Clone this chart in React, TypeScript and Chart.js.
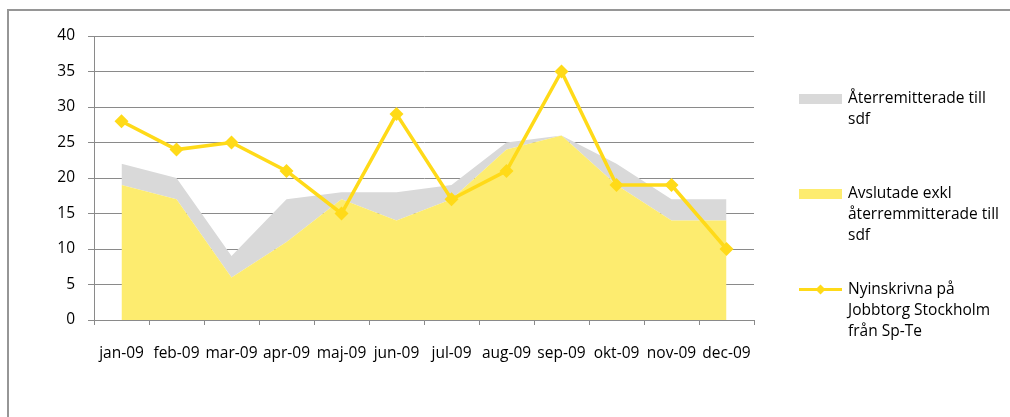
import React, { useEffect, useRef } from "react";
import { Chart, registerables } from "chart.js";

Chart.register(...registerables);

const months = ["jan-09", "feb-09", "mar-09", "apr-09", "maj-09", "jun-09", "jul-09", "aug-09", "sep-09", "okt-09", "nov-09", "dec-09"];
const avslutade = [19, 17, 6, 11, 17, 14, 17, 24, 26, 19, 14, 14];
const aterremitterade = [3, 3, 3, 6, 1, 4, 2, 1, 0, 3, 3, 3];
const nyinskrivna = [28, 24, 25, 21, 15, 29, 17, 21, 35, 19, 19, 10];
const yMax = 40;
const yStep = 5;

const legendAter = ["Återremitterade till", "sdf"];
const legendAvsl = ["Avslutade exkl", "återremmitterade till", "sdf"];
const legendNy = ["Nyinskrivna på", "Jobbtorg Stockholm", "från Sp-Te"];

const FONT = "'Open Sans', sans-serif";
const FS = 15.5;
const GREY = "#D9D9D9";
const YELLOW_FILL = "#FDEC6F";
const LINE = "#FFDA18";
const GRID = "#8a8a8a";

const legendPlugin = {
  id: "customLegend",
  afterDraw(chart: any) {
    const ctx = chart.ctx as CanvasRenderingContext2D;
    const sx = 799, sw = 43, tx = 848, lh = 21;
    ctx.save();
    ctx.font = `${FS}px ${FONT}`;
    ctx.fillStyle = "#000";
    ctx.textBaseline = "middle";
    ctx.textAlign = "left";
    const block = (lines: string[], y0: number) => {
      lines.forEach((l, i) => ctx.fillText(l, tx, y0 + i * lh));
    };
    ctx.fillStyle = GREY;
    ctx.fillRect(sx, 94, sw, 10);
    ctx.fillStyle = "#000";
    block(legendAter, 99);
    ctx.fillStyle = YELLOW_FILL;
    ctx.fillRect(sx, 189, sw, 10);
    ctx.fillStyle = "#000";
    block(legendAvsl, 194);
    ctx.strokeStyle = LINE;
    ctx.lineWidth = 3;
    ctx.beginPath();
    ctx.moveTo(sx, 289.5);
    ctx.lineTo(sx + sw, 289.5);
    ctx.stroke();
    ctx.fillStyle = LINE;
    ctx.beginPath();
    const cx = sx + sw / 2, cy = 289.5, r = 5;
    ctx.moveTo(cx, cy - r);
    ctx.lineTo(cx + r, cy);
    ctx.lineTo(cx, cy + r);
    ctx.lineTo(cx - r, cy);
    ctx.closePath();
    ctx.fill();
    ctx.fillStyle = "#000";
    block(legendNy, 290);
    ctx.restore();
  },
};

export default function App() {
  const ref = useRef<HTMLCanvasElement>(null);
  useEffect(() => {
    if (!ref.current) return;
    const chart = new Chart(ref.current, {
      type: "line",
      data: {
        labels: months,
        datasets: [
          {
            label: "Avslutade exkl återremmitterade till sdf",
            data: avslutade,
            backgroundColor: YELLOW_FILL,
            borderWidth: 0,
            pointRadius: 0,
            fill: "origin",
            stack: "area",
            order: 1,
            tension: 0,
          },
          {
            label: "Återremitterade till sdf",
            data: aterremitterade,
            backgroundColor: GREY,
            borderWidth: 0,
            pointRadius: 0,
            fill: "-1",
            stack: "area",
            order: 1,
            tension: 0,
          },
          {
            label: "Nyinskrivna på Jobbtorg Stockholm från Sp-Te",
            data: nyinskrivna,
            borderColor: LINE,
            backgroundColor: LINE,
            borderWidth: 3.5,
            pointStyle: "rectRot",
            pointRadius: 7,
            pointBorderWidth: 0,
            pointBackgroundColor: LINE,
            fill: false,
            stack: "line",
            order: 0,
            tension: 0,
          },
        ],
      },
      options: {
        responsive: false,
        animation: false,
        events: [],
        layout: { padding: { top: 36, right: 256, left: 0, bottom: 0 } },
        plugins: { legend: { display: false }, tooltip: { enabled: false }, title: { display: false } },
        scales: {
          x: {
            type: "category",
            offset: true,
            grid: { offset: true, drawOnChartArea: false, drawTicks: true, tickLength: 5, color: GRID, lineWidth: 1 },
            border: { color: GRID, width: 1 },
            ticks: { color: "#000", font: { family: FONT, size: FS }, padding: 19, autoSkip: false, maxRotation: 0, minRotation: 0 },
            afterFit: (s: any) => { s.height = 97; },
          },
          y: {
            stacked: true,
            min: 0,
            max: yMax,
            ticks: { stepSize: yStep, color: "#000", font: { family: FONT, size: FS }, padding: 13 },
            grid: { color: GRID, lineWidth: 1, tickLength: 6 },
            border: { color: GRID, width: 1 },
            afterFit: (s: any) => { s.width = 94; },
          },
        },
      },
      plugins: [legendPlugin],
    } as any);
    return () => chart.destroy();
  }, []);
  return (
    <div style={{ position: "fixed", left: 0, top: 0, width: 1010, height: 417, overflow: "hidden", background: "#fff" }}>
      <div style={{ position: "absolute", left: 7, top: 9, width: 1020, height: 430, border: "2px solid #969696", boxSizing: "border-box" }} />
      <canvas ref={ref} width={1010} height={417} style={{ position: "absolute", left: 0, top: 0, width: 1010, height: 417 }} />
    </div>
  );
}
